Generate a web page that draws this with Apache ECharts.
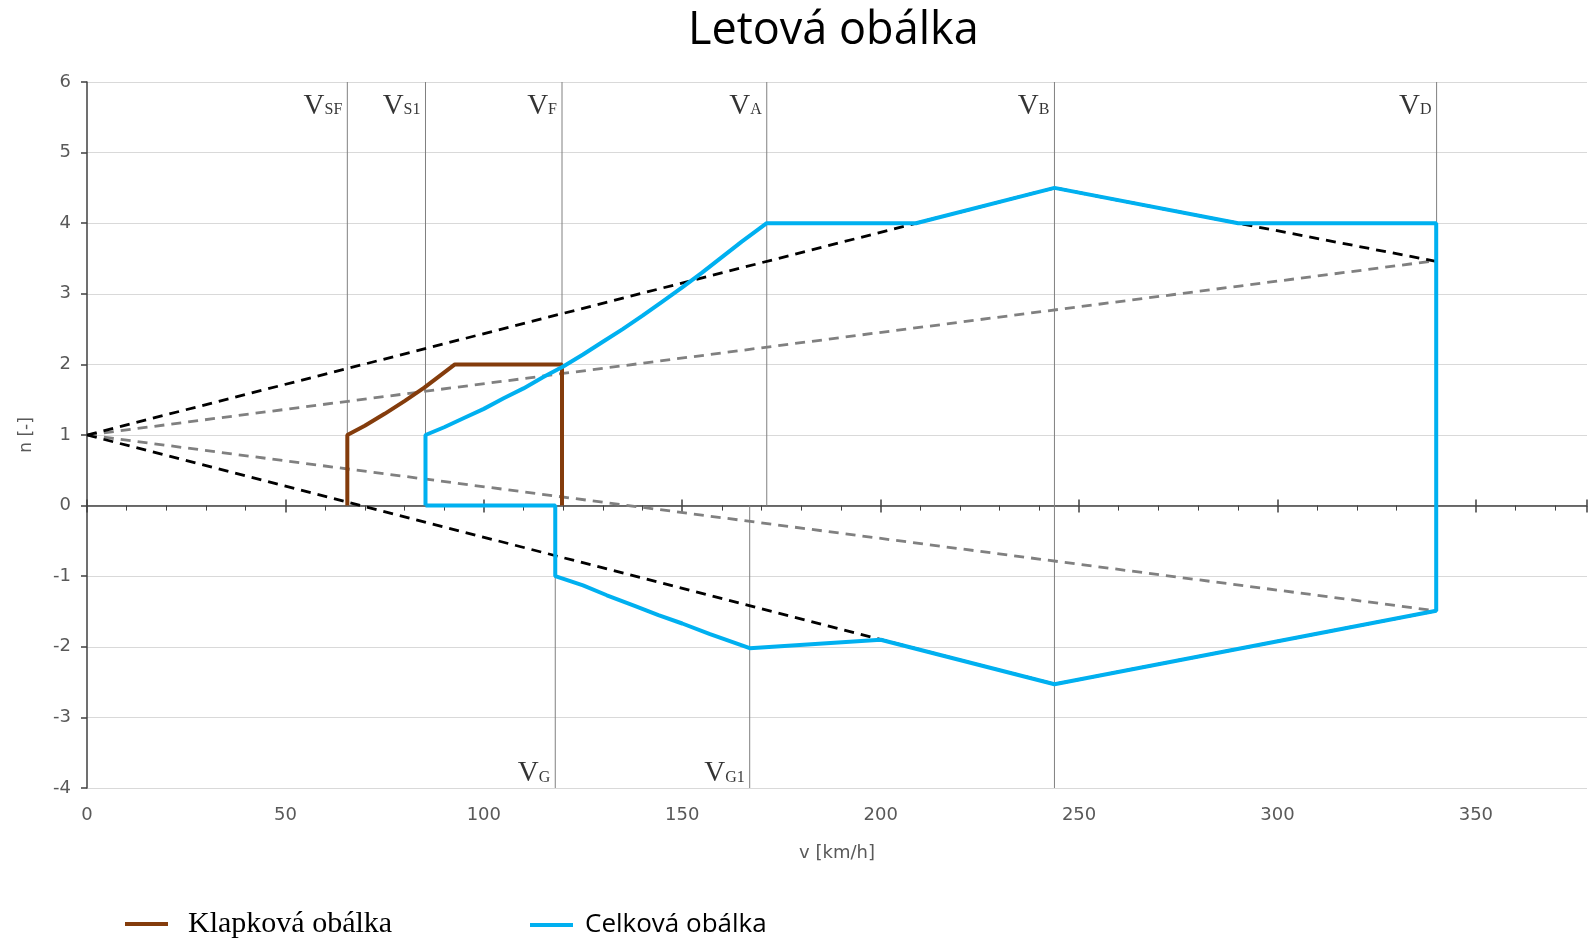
<!DOCTYPE html>
<html><head><meta charset="utf-8">
<script src="https://cdn.jsdelivr.net/npm/echarts@6/dist/echarts.min.js"></script>
<style>html,body{margin:0;padding:0;background:#fff}#c{width:1588px;height:939px}</style>
</head><body><div id="c"></div>
<script>
// ---- data (v [km/h], n [-]) ----
const flapEnvelope = [[65.6,0],[65.6,1],[70,1.13],[75,1.3],[80,1.48],[85,1.67],[92.7,2],[119.7,2],[119.7,0]];
const totalEnvelope = [[85.3,0],[85.3,1],[90,1.11],[95,1.24],[100,1.37],[105,1.52],[110,1.66],[115,1.82],[120,1.97],[125,2.14],[130,2.32],[135,2.5],[140,2.69],[145,2.89],[150,3.09],[155,3.3],[160,3.52],[165,3.74],[171.3,4],[208.9,4],[243.8,4.5],[290.1,4],[340,4],[340,-1.49],[243.8,-2.53],[200,-1.9],[167,-2.02],[157,-1.82],[150,-1.67],[144,-1.55],[138,-1.42],[131,-1.27],[125,-1.13],[118,-1],[118,0],[85.3,0]];
const gustBlackUpper = [[0,1],[243.8,4.5],[340,3.46]];
const gustBlackLower = [[0,1],[243.8,-2.53],[340,-1.49]];
const gustGrayUpper = [[0,1],[340,3.47]];
const gustGrayLower = [[0,1],[340,-1.49]];
const refNames = ['SF','S1','F','A','B','D','G','G1'];
const refV     = [65.6, 85.3, 119.7, 171.3, 243.8, 340.1, 118.0, 167.0];
const refFrom  = [0, 0, 0, 0, -4, -1.5, 0, 0];
const refTo    = [6, 6, 6, 6, 6, 6, -4, -4];
const refLabelY= [5.66, 5.66, 5.66, 5.66, 5.66, 5.66, -3.8, -3.8];
const xMin = 0, xMax = 378, xStep = 50;
const yMin = -4, yMax = 6, yStep = 1;

const AX = '#595959', AXLINE = '#404040';
const sansFont = 'DejaVu Sans';

const refSeries = refV.map((v, i) => ({
  type: 'line', silent: true, symbol: 'none', z: 1,
  data: [[v, refFrom[i]], [v, refTo[i]]],
  lineStyle: { color: '#808080', width: 1 }
}));

function dashed(data, color) {
  return { type: 'line', silent: true, symbol: 'none', z: 2, data,
    lineStyle: { color, width: 2.8, type: [10, 7] } };
}

const xBase = { type: 'value', min: xMin, max: xMax, interval: xStep, splitLine: { show: false } };

const option = {
  animation: false,
  backgroundColor: '#fff',
  title: { text: 'Letová obálka', left: 683, top: 4,
    textStyle: { fontFamily: 'Open Sans', fontSize: 45, fontWeight: 'normal', color: '#000' } },
  grid: { left: 87, right: 1, top: 82, bottom: 151, containLabel: false },
  legend: [
    { data: [{ name: 'Klapková obálka', textStyle: { fontFamily: 'Liberation Serif', fontSize: 30, color: '#000', padding: [0,0,0,15], lineHeight: 30 } }],
      left: 125, top: 909, padding: 0, icon: 'rect', itemWidth: 43, itemHeight: 4 },
    { data: [{ name: 'Celková obálka', textStyle: { fontFamily: 'Open Sans', fontSize: 26, color: '#000', padding: [0,0,0,7], lineHeight: 30 } }],
      left: 530, top: 910, padding: 0, icon: 'rect', itemWidth: 43, itemHeight: 4 }
  ],
  xAxis: [
    Object.assign({}, xBase, {
      position: 'bottom', axisLine: { show: false, onZero: false }, axisTick: { show: false },
      axisLabel: { color: AX, fontSize: 18, fontFamily: sansFont, margin: 18, showMaxLabel: false },
      name: 'v [km/h]', nameLocation: 'middle', nameGap: 56,
      nameTextStyle: { color: AX, fontSize: 18, fontFamily: sansFont }
    }),
    Object.assign({}, xBase, {
      position: 'bottom',
      axisLine: { show: true, onZero: true, onZeroAxisIndex: 0, lineStyle: { color: AXLINE, width: 1.5 } },
      axisTick: { show: true, length: 7, lineStyle: { color: AXLINE, width: 1.5 } },
      minorTick: { show: true, splitNumber: 5, length: 5, lineStyle: { color: AXLINE, width: 1 } },
      axisLabel: { show: false }
    }),
    Object.assign({}, xBase, {
      position: 'bottom',
      axisLine: { show: false, onZero: true, onZeroAxisIndex: 0 },
      axisTick: { show: true, inside: true, length: 6, lineStyle: { color: AXLINE, width: 1.5 } },
      axisLabel: { show: false }
    })
  ],
  yAxis: {
    type: 'value', min: yMin, max: yMax, interval: yStep,
    axisLine: { show: true, onZero: false, lineStyle: { color: AXLINE, width: 1.5 } },
    axisTick: { show: true, length: 6, lineStyle: { color: AXLINE, width: 1.5 } },
    axisLabel: { color: AX, fontSize: 18, fontFamily: sansFont, margin: 16 },
    splitLine: { show: true, lineStyle: { color: '#d9d9d9', width: 1.2 } },
    name: 'n [-]', nameLocation: 'middle', nameGap: 52,
    nameTextStyle: { color: AX, fontSize: 17, fontFamily: sansFont }
  },
  series: [
    ...refSeries,
    dashed(gustGrayUpper, '#808080'),
    dashed(gustGrayLower, '#808080'),
    dashed(gustBlackUpper, '#000'),
    dashed(gustBlackLower, '#000'),
    { name: 'Klapková obálka', type: 'line', symbol: 'none', z: 3, data: flapEnvelope,
      color: '#843C0C', lineStyle: { color: '#843C0C', width: 4 } },
    { name: 'Celková obálka', type: 'line', symbol: 'none', z: 4, data: totalEnvelope,
      color: '#00B0F0', lineStyle: { color: '#00B0F0', width: 4 } },
    { type: 'scatter', symbolSize: 0, silent: true, z: 5,
      data: refV.map((v, i) => [v, refLabelY[i], refNames[i]]),
      label: { show: true, position: 'left', distance: 5,
        formatter: p => '{v|V}{s|' + p.value[2] + '}',
        rich: {
          v: { fontFamily: 'Liberation Serif', fontSize: 29, color: '#000', verticalAlign: 'bottom' },
          s: { fontFamily: 'Liberation Serif', fontSize: 16, color: '#000', verticalAlign: 'bottom', padding: [0,0,3,0] }
        } } }
  ]
};
echarts.init(document.getElementById('c')).setOption(option);
</script></body></html>
